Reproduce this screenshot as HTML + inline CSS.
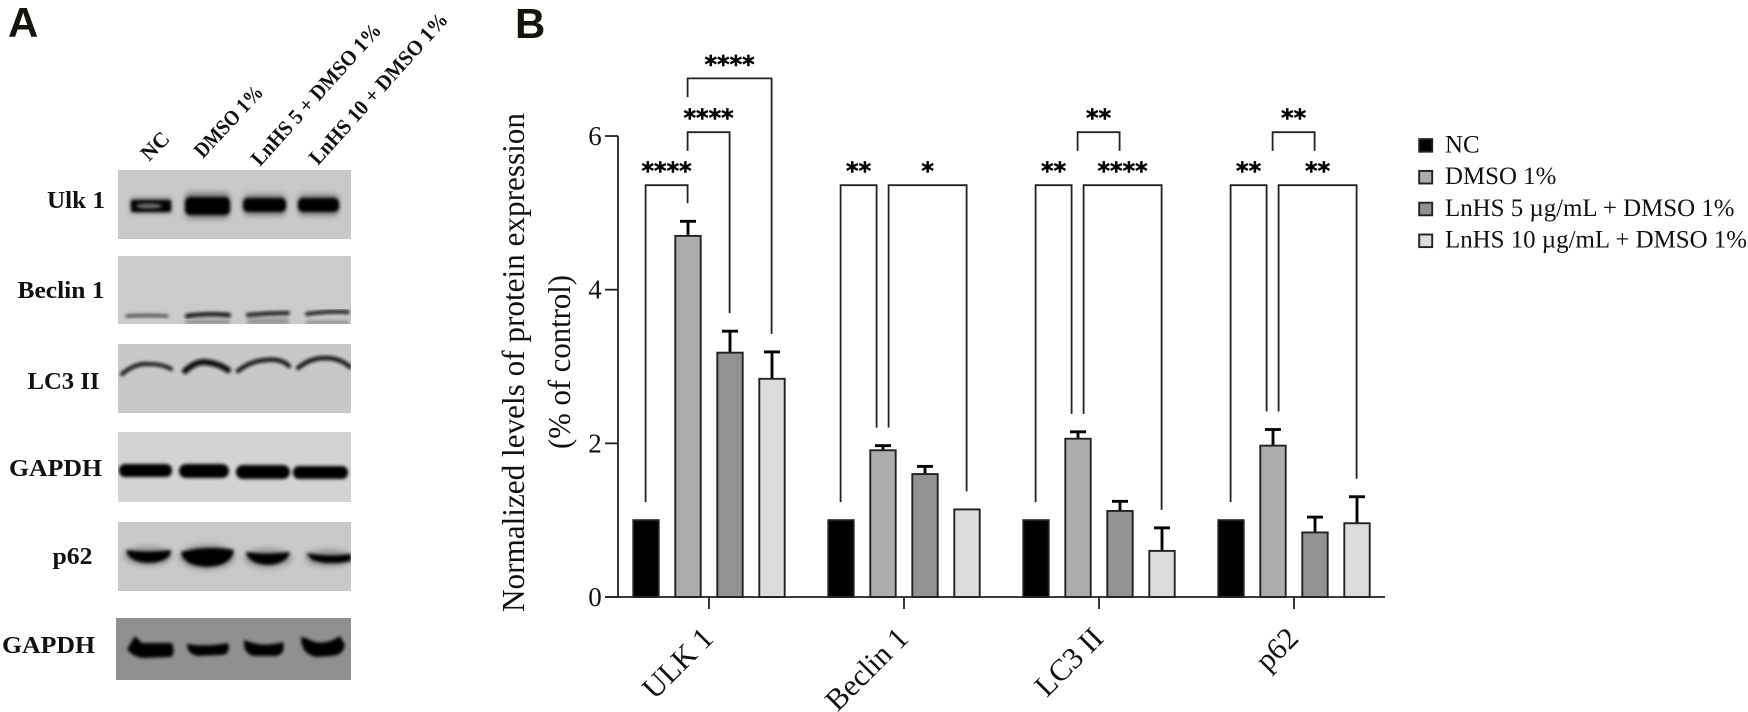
<!DOCTYPE html>
<html lang="en">
<head>
<meta charset="utf-8">
<title>Western blots and normalized protein expression</title>
<style>
html,body{margin:0;padding:0;background:#fff;width:1748px;height:712px;overflow:hidden}
svg{display:block}
text{font-family:"Liberation Serif",serif;fill:#111}
.panel{font-family:"Liberation Sans",sans-serif;font-weight:700;font-size:42px;fill:#14140f}
.bl{font-weight:700;font-size:24px}
.lane{font-weight:700;font-size:21.5px}
.s0{fill:#000}.s1{fill:#adadae}.s2{fill:#929292}.s3{fill:#dcdcdc}
.bar{stroke:#222;stroke-width:1.9}
.line{stroke:#222;stroke-width:1.8;fill:none}
.err{stroke:#050505;stroke-width:2.9;fill:none}
.star{font-family:"DejaVu Sans",sans-serif;font-weight:700;font-size:24px;fill:#000;stroke:#000;stroke-width:.5;text-anchor:middle}
.tick{font-size:27px;text-anchor:middle}
.cat{font-size:30.5px;text-anchor:end}
.ytitle{font-size:32px}
.leg{font-size:24.9px}
</style>
</head>
<body>
<svg id="figure" xmlns="http://www.w3.org/2000/svg" width="1748" height="712" viewBox="0 0 1748 712">
<defs>
<filter id="b1" x="-20%" y="-60%" width="140%" height="220%"><feGaussianBlur stdDeviation="1.5"/></filter>
<filter id="b2" x="-20%" y="-60%" width="140%" height="220%"><feGaussianBlur stdDeviation="3"/></filter>
<clipPath id="c1"><rect x="118" y="170" width="233" height="69"/></clipPath>
<clipPath id="c2"><rect x="118" y="256" width="233" height="68"/></clipPath>
<clipPath id="c3"><rect x="118" y="344" width="233" height="69"/></clipPath>
<clipPath id="c4"><rect x="118" y="432" width="233" height="70"/></clipPath>
<clipPath id="c5"><rect x="118" y="522" width="233" height="69"/></clipPath>
<clipPath id="c6"><rect x="116" y="618" width="235" height="62"/></clipPath>
</defs>

<text class="panel" x="8" y="37">A</text>
<text class="panel" x="515" y="38">B</text>

<g>
<text class="lane" transform="translate(149,162) rotate(-45)">NC</text>
<text class="lane" transform="translate(203,159) rotate(-47)" textLength="90" lengthAdjust="spacingAndGlyphs">DMSO 1%</text>
<text class="lane" transform="translate(260,167) rotate(-48)" textLength="183" lengthAdjust="spacingAndGlyphs">LnHS 5  + DMSO 1%</text>
<text class="lane" transform="translate(318,166) rotate(-48)" textLength="196" lengthAdjust="spacingAndGlyphs">LnHS 10  + DMSO 1%</text>
</g>

<g>
<text class="bl" x="47" y="208" textLength="58" lengthAdjust="spacingAndGlyphs">Ulk 1</text>
<text class="bl" x="17.5" y="298" textLength="87" lengthAdjust="spacingAndGlyphs">Beclin 1</text>
<text class="bl" x="27.5" y="389" textLength="72" lengthAdjust="spacingAndGlyphs">LC3 II</text>
<text class="bl" x="9" y="476" textLength="93" lengthAdjust="spacingAndGlyphs">GAPDH</text>
<text class="bl" x="52.5" y="564" textLength="40" lengthAdjust="spacingAndGlyphs">p62</text>
<text class="bl" x="2" y="653" textLength="93" lengthAdjust="spacingAndGlyphs">GAPDH</text>
</g>

<g clip-path="url(#c1)">
<rect x="118" y="170" width="233" height="69" fill="#c9c9c9"/>
<g fill="#555" filter="url(#b2)" opacity=".6"><rect x="131" y="198" width="40" height="15"/><rect x="185" y="192" width="45" height="27" rx="6"/><rect x="243" y="194" width="43" height="22" rx="6"/><rect x="298" y="194" width="41" height="22" rx="6"/></g>
<g fill="#050505" filter="url(#b1)"><rect x="131" y="200" width="40" height="12" rx="2"/><rect x="185" y="197" width="45" height="18" rx="5"/><rect x="243" y="198" width="43" height="14" rx="5"/><rect x="298" y="198" width="41" height="14" rx="5"/></g>
<ellipse cx="149" cy="206" rx="13" ry="2.6" fill="#707070" filter="url(#b1)"/>
</g>

<g clip-path="url(#c2)">
<rect x="118" y="256" width="233" height="68" fill="#cbcbcb"/>
<g fill="#9a9a9a" filter="url(#b1)"><rect x="185" y="319" width="45" height="6"/><rect x="247" y="318" width="42" height="7"/><rect x="306" y="320" width="43" height="5"/></g>
<g stroke="#0a0a0a" fill="none" stroke-linecap="round" filter="url(#b1)"><path d="M127 316 Q147 315 167 316" stroke-width="3" stroke="#444"/><path d="M187 316 Q207 313 229 315" stroke-width="4.2"/><path d="M248 315 Q268 313 288 313" stroke-width="3.8"/><path d="M307 314 Q328 311 348 312" stroke-width="3.6"/></g>
</g>

<g clip-path="url(#c3)">
<rect x="118" y="344" width="233" height="69" fill="#c8c8c8"/>
<g stroke="#0a0a0a" fill="none" stroke-linecap="round" filter="url(#b1)"><path d="M122 374 Q135 363 148 364 Q163 364 171 369" stroke-width="3.8"/><path d="M185 371 Q195 362 204 362 Q218 363 228 370" stroke-width="6"/><path d="M238 371 Q250 361 266 360 Q281 358 289 366" stroke-width="4.2"/><path d="M298 368 Q310 358 325 358 Q340 358 350 367" stroke-width="4.2"/></g>
</g>

<g clip-path="url(#c4)">
<rect x="118" y="432" width="233" height="70" fill="#d3d3d3"/>
<g fill="#040404" filter="url(#b1)"><rect x="119" y="464" width="53" height="13" rx="6"/><rect x="179" y="464" width="50" height="14" rx="7"/><rect x="236" y="465" width="54" height="14" rx="7"/><rect x="293" y="466" width="55" height="13" rx="6"/></g>
</g>

<g clip-path="url(#c5)">
<rect x="118" y="522" width="233" height="69" fill="#c9c9c9"/>
<g fill="#666" filter="url(#b2)" opacity=".5"><ellipse cx="148" cy="556" rx="24" ry="10"/><ellipse cx="207" cy="557" rx="28" ry="13"/><ellipse cx="268" cy="558" rx="24" ry="10"/><ellipse cx="329" cy="558" rx="24" ry="9"/></g>
<g fill="#050505" filter="url(#b1)"><path d="M126 550 Q148 553 171 550 Q171 562 148 563 Q128 562 126 550Z"/><path d="M181 552 Q207 545 234 550 Q232 566 207 567 Q183 566 181 552Z"/><path d="M246 552 Q268 555 290 552 Q287 564 268 565 Q248 564 246 552Z"/><path d="M306 553 Q328 557 351 554 L351 561 Q328 566 312 560Z"/></g>
</g>

<g clip-path="url(#c6)">
<rect x="116" y="618" width="235" height="62" fill="#909090"/>
<g fill="#030303" filter="url(#b1)"><path d="M127 649 L135 636 L142 643 L172 643 Q176 655 170 657 L143 658 Q133 657 127 649Z"/><path d="M187 644 Q206 647 228 643 Q231 654 222 655 L198 656 Q187 654 187 644Z"/><path d="M244 640 Q264 648 283 642 Q286 654 276 656 L254 656 Q243 654 244 640Z"/><path d="M301 637 L306 638 Q322 648 340 636 L345 645 Q343 655 332 656 L316 657 Q301 654 301 637Z"/></g>
</g>

<g id="chart"></g>
</svg>

<script>
const categories = ["ULK 1", "Beclin 1", "LC3 II", "p62"];
const seriesNames = ["NC", "DMSO 1%", "LnHS 5 µg/mL + DMSO 1%", "LnHS 10 µg/mL + DMSO 1%"];
const valuesNC = [1, 1, 1, 1];
const valuesDMSO = [4.70, 1.91, 2.06, 1.97];
const valuesLnHS5 = [3.18, 1.60, 1.12, 0.84];
const valuesLnHS10 = [2.84, 1.14, 0.60, 0.96];
const errorsNC = [0, 0, 0, 0];
const errorsDMSO = [0.19, 0.06, 0.09, 0.21];
const errorsLnHS5 = [0.28, 0.10, 0.125, 0.20];
const errorsLnHS10 = [0.35, 0, 0.30, 0.345];
const yTickLabels = [0, 2, 4, 6];
const comparisonGroups = [0, 0, 0, 1, 1, 2, 2, 2, 3, 3, 3];
const comparisonFrom = [0, 1, 1, 0, 1, 0, 1, 1, 0, 1, 1];
const comparisonTo = [1, 2, 3, 1, 3, 1, 3, 2, 1, 3, 2];
const comparisonStars = ["****", "****", "****", "**", "*", "**", "****", "**", "**", "**", "**"];
const comparisonLevels = [5.36, 6.05, 6.75, 5.36, 5.36, 5.36, 5.36, 6.05, 5.36, 5.36, 6.05];

const allValues = [valuesNC, valuesDMSO, valuesLnHS5, valuesLnHS10];
const allErrors = [errorsNC, errorsDMSO, errorsLnHS5, errorsLnHS10];
const SVGNS = "http://www.w3.org/2000/svg";
const chart = document.getElementById("chart");
const y0 = 597, pxPerUnit = 76.83;
const yScale = v => y0 - v * pxPerUnit;
const xScale = (g, s) => 646 + 195 * g + 42 * s;
const barWidth = 25.4, axisX = 618;

function make(tag, attrs, text) {
  const el = document.createElementNS(SVGNS, tag);
  for (const k in attrs) el.setAttribute(k, attrs[k]);
  if (text !== undefined) el.textContent = text;
  chart.appendChild(el);
  return el;
}
function slug(s) { return s.toLowerCase().replace(/[^a-z0-9]+/g, "-").replace(/^-|-$/g, ""); }
function errTop(g, s) { return yScale(allValues[s][g] + allErrors[s][g]); }

// axes
const yAxis = make("line", {class: "line", x1: axisX, x2: axisX, y1: yScale(6), y2: y0});


const xAxis = make("line", {class: "line", x1: 605, x2: 1385, y1: y0, y2: y0});



yTickLabels.forEach(t => {
  const tk = make("line", {class: "line", x1: 605, x2: axisX, y1: yScale(t), y2: yScale(t)});
  
  
  const lb = make("text", {class: "tick", x: 595, y: yScale(t) + 9}, String(t));
  
  
});

const title1 = make("text", {class: "ytitle", transform: "translate(524,612) rotate(-90)", textLength: 499, lengthAdjust: "spacingAndGlyphs"}, "Normalized levels of protein expression");


const title2 = make("text", {class: "ytitle", transform: "translate(570,449) rotate(-90)", textLength: 174, lengthAdjust: "spacingAndGlyphs"}, "(% of control)");



// categories, bars, errors
categories.forEach((c, g) => {
  const cx = (xScale(g, 1) + xScale(g, 2)) / 2;
  const tk = make("line", {class: "line", x1: cx, x2: cx, y1: y0, y2: y0 + 12});
  
  
  const lb = make("text", {class: "cat", transform: "translate(" + (cx + 6) + ",640) rotate(-45)"}, c);
  
  

  allValues.forEach((vals, s) => {
    const v = vals[g], e = allErrors[s][g], x = xScale(g, s);
    if (e > 0) {
      const stem = make("line", {class: "err", x1: x, x2: x, y1: yScale(v), y2: yScale(v + e)});
      
      
      const cap = make("line", {class: "err", x1: x - 8, x2: x + 8, y1: yScale(v + e), y2: yScale(v + e)});
      
      
    }
    const bar = make("rect", {class: "bar s" + s, x: x - barWidth / 2, y: yScale(v), width: barWidth, height: y0 - yScale(v)});
    
    
  });
});

// significance brackets
comparisonGroups.forEach((g, i) => {
  const a = comparisonFrom[i], b = comparisonTo[i];
  const top = yScale(comparisonLevels[i]);
  const raised = comparisonLevels[i] > 5.4;
  const fan = comparisonLevels[i] < 5.4 && g > 0;
  const xa = xScale(g, a) + (fan && a === 1 ? 6 : 0) - 0.4;
  const xb = xScale(g, b) - (fan && b === 1 ? 6 : 0) - 0.4;
  const stubEnd = top + 18.7;
  const ya = raised ? stubEnd : errTop(g, a) - 18;
  const yb = raised && g > 0 ? stubEnd : errTop(g, b) - 18;
  const path = make("path", {class: "line", d: "M" + xa + " " + ya + "V" + top + "H" + xb + "V" + yb});
  
  
  const star = make("text", {class: "star", x: (xa + xb) / 2, y: top - 6}, comparisonStars[i]);
  
  
});

// legend
seriesNames.forEach((name, s) => {
  const rowY = 144.8 + 31.8 * s;
  const sw = make("rect", {class: "bar s" + s, x: 1419.2, y: rowY - 5.7, width: 13, height: 12.6});
  
  
  const lb = make("text", {class: "leg", x: 1445, y: rowY + 7.5}, name);
  
  
});
</script>
</body>
</html>
